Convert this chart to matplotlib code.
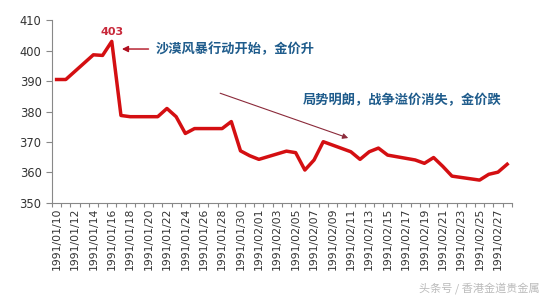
import matplotlib
matplotlib.use('Agg')
import matplotlib.pyplot as plt
import pandas as pd

plt.rcParams['font.family'] = ['DejaVu Sans', 'Noto Sans CJK SC']

# 交易日与金价
fechas = ['1991-01-10', '1991-01-11', '1991-01-14', '1991-01-15', '1991-01-16',
          '1991-01-17', '1991-01-18', '1991-01-21', '1991-01-22', '1991-01-23',
          '1991-01-24', '1991-01-25', '1991-01-28', '1991-01-29', '1991-01-30',
          '1991-01-31', '1991-02-01', '1991-02-04', '1991-02-05', '1991-02-06',
          '1991-02-07', '1991-02-08', '1991-02-11', '1991-02-12', '1991-02-13',
          '1991-02-14', '1991-02-15', '1991-02-18', '1991-02-19', '1991-02-20',
          '1991-02-21', '1991-02-22', '1991-02-25', '1991-02-26', '1991-02-27',
          '1991-02-28']
precios = [390.5, 390.5, 398.6, 398.4, 403.0,
           378.7, 378.3, 378.3, 381.0, 378.3,
           372.8, 374.4, 374.4, 376.7, 367.1,
           365.5, 364.3, 367.0, 366.5, 360.8,
           364.1, 370.1, 366.8, 364.3, 366.8,
           368.0, 365.7, 364.1, 363.0, 364.9,
           362.0, 358.8, 357.5, 359.4, 360.1,
           362.7]

inicio = pd.Timestamp('1991-01-10')
fin = pd.Timestamp('1991-02-28')
dias = pd.date_range(inicio, fin, freq='D')
etiquetas = [d.strftime('%Y/%m/%d') for d in dias]

x = [(pd.Timestamp(f) - inicio).days for f in fechas]

fig = plt.figure(figsize=(5.45, 2.95), dpi=100)
ax = fig.add_axes([0.0954, 0.312, 0.8436, 0.62])

ax.plot(x, precios, color='#D40F12', linewidth=2.5, solid_joinstyle='round')

ax.set_xlim(-0.5, len(dias) - 0.5)
ax.set_ylim(350, 410)
ax.set_yticks(range(350, 411, 10))

ax.set_xticks([i - 0.5 for i in range(len(dias) + 1)], minor=False)
ax.set_xticklabels([])
ax.set_xticks(range(0, len(dias), 2), minor=True)
ax.set_xticklabels(etiquetas[::2], minor=True, rotation=90, fontsize=7.8,
                   color='#333333')
ax.tick_params(axis='x', which='major', length=3, color='#888888', width=0.8)
ax.tick_params(axis='x', which='minor', length=0, pad=3)
ax.tick_params(axis='y', length=4, color='#888888', width=0.8,
               labelsize=8.3, labelcolor='#333333')

for s in ['top', 'right']:
    ax.spines[s].set_visible(False)
for s in ['left', 'bottom']:
    ax.spines[s].set_color('#888888')
    ax.spines[s].set_linewidth(0.8)

# 标注
ax.text(6, 404.3, '403', color='#C8283A', fontsize=8, fontweight='bold',
        ha='center', va='bottom')
ax.annotate('', xy=(6.8, 400.5), xytext=(10.3, 400.5),
            arrowprops=dict(arrowstyle='-|>', color='#B01020', lw=1.0,
                            mutation_scale=9))
ax.text(10.8, 400.5, '沙漠风暴行动开始，金价升', color='#1F5C8C', fontsize=9.5,
        fontweight='bold', family=['Noto Sans CJK SC'], ha='left', va='center')
ax.annotate('', xy=(32.0, 371.0), xytext=(17.5, 386.3),
            arrowprops=dict(arrowstyle='-|>', color='#8B2A3A', lw=0.8,
                            mutation_scale=8))
ax.text(26.8, 383.8, '局势明朗，战争溢价消失，金价跌', color='#1F5C8C', fontsize=9.5,
        fontweight='bold', family=['Noto Sans CJK SC'], ha='left', va='center')

fig.text(0.99, 0.025, '头条号 / 香港金道贵金属', color='#BBBBBB', fontsize=8,
         family=['Noto Sans CJK SC'], ha='right', va='center')

fig.savefig('out.png', dpi=100)
